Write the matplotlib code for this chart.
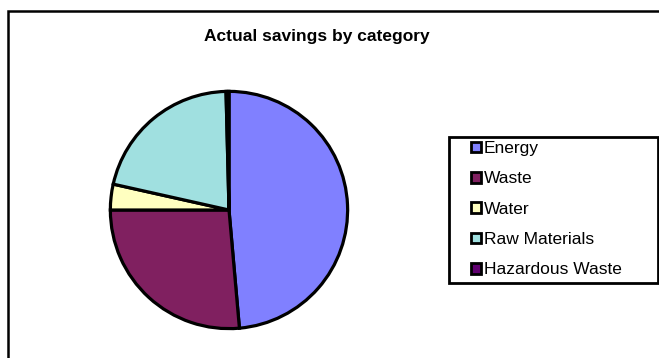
import matplotlib
matplotlib.use("Agg")
import matplotlib.pyplot as plt
from matplotlib.patches import Rectangle, Patch

# Data
categories = ["Energy", "Waste", "Water", "Raw Materials", "Hazardous Waste"]
savings = [48.6, 26.4, 3.5, 21.1, 0.4]
colors = ["#8080FF", "#802060", "#FFFFC0", "#A0E0E0", "#600070"]

plt.rcParams["font.family"] = ["Liberation Sans", "DejaVu Sans"]

W, H = 659, 358
fig = plt.figure(figsize=(W / 100, H / 100), dpi=100)

# outer chart border (runs off the right and bottom edges)
fig.patches.append(Rectangle((8 / W, -0.1), 1.2, 1 - 11 / H + 0.1,
                             transform=fig.transFigure, fill=False,
                             edgecolor="black", linewidth=1.8))

# pie
cx, cy, r = 229, 210, 121
ax = fig.add_axes([(cx - r) / W, (H - cy - r) / H, 2 * r / W, 2 * r / H])
ax.pie(savings, colors=colors, startangle=90, counterclock=False,
       wedgeprops=dict(edgecolor="black", linewidth=2.3))
ax.set_xlim(-1.02, 1.02)
ax.set_ylim(-1.02, 1.02)
ax.set_aspect("equal")
ax.axis("off")

fig.text(317 / W, 1 - 36 / H, "Actual savings by category", ha="center",
         va="center", fontsize=12.5, fontweight="bold")

# legend box
fig.patches.append(Rectangle((449 / W, 1 - 283 / H), 209 / W, 146 / H,
                             transform=fig.transFigure, fill=False,
                             edgecolor="black", linewidth=2))
handles = [Patch(facecolor=c, edgecolor="black", linewidth=2) for c in colors]
leg = fig.legend(handles, categories, loc="upper left",
                 bbox_to_anchor=(466 / W, 1 - 136 / H),
                 fontsize=12.5, frameon=False,
                 handlelength=0.58, handleheight=0.58, handletextpad=0.15,
                 labelspacing=0.88, borderpad=0.3, borderaxespad=0)

fig.savefig("out.png", dpi=100)
